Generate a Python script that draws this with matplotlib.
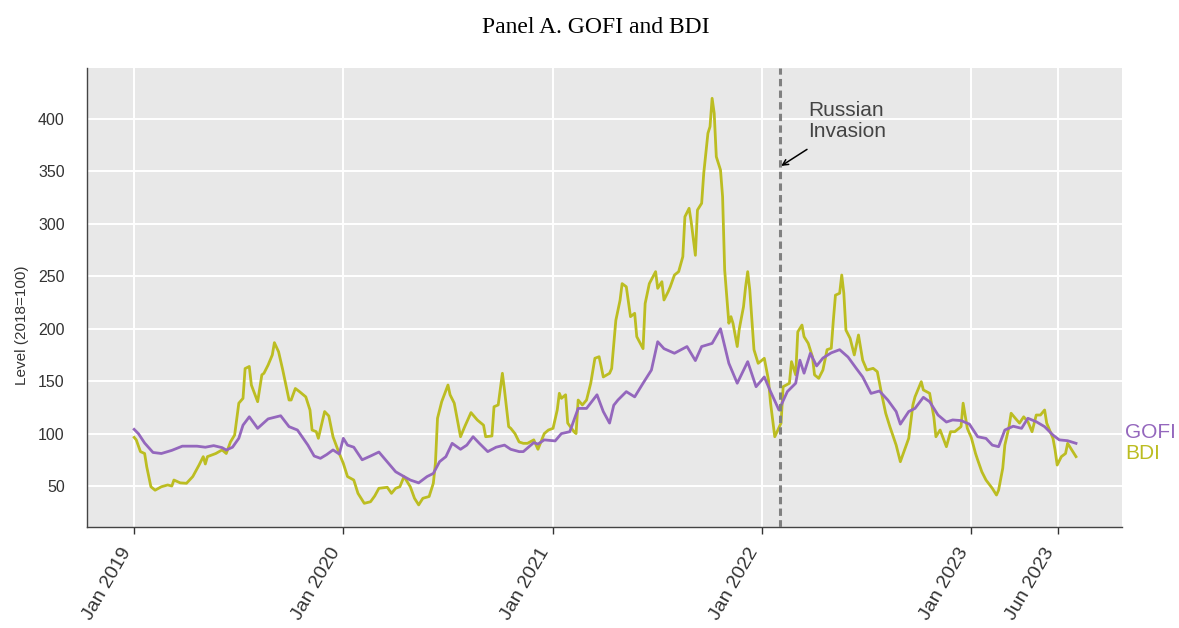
import pandas as pd
import matplotlib
matplotlib.use("Agg")
import matplotlib.pyplot as plt
import matplotlib.transforms as mtransforms

# times are read as decimal years, values as index level (2018=100)
gofi_t = [2019.00, 2019.02, 2019.05, 2019.09, 2019.13, 2019.18, 2019.23, 2019.30, 2019.34, 2019.38,
          2019.42, 2019.44, 2019.47, 2019.50, 2019.52, 2019.55, 2019.59, 2019.64, 2019.70, 2019.74,
          2019.78, 2019.83, 2019.86, 2019.89, 2019.92, 2019.95, 2019.98, 2020.00, 2020.02, 2020.05,
          2020.09, 2020.13, 2020.17, 2020.21, 2020.25, 2020.29, 2020.32, 2020.36, 2020.40, 2020.43,
          2020.46, 2020.49, 2020.52, 2020.56, 2020.59, 2020.62, 2020.65, 2020.69, 2020.73, 2020.77,
          2020.80, 2020.84, 2020.86, 2020.91, 2020.93, 2020.96, 2021.01, 2021.04, 2021.08, 2021.12,
          2021.16, 2021.21, 2021.24, 2021.27, 2021.29, 2021.31, 2021.35, 2021.39, 2021.43, 2021.47,
          2021.50, 2021.53, 2021.58, 2021.64, 2021.68, 2021.71, 2021.76, 2021.80, 2021.84, 2021.88,
          2021.93, 2021.97, 2022.01, 2022.04, 2022.08, 2022.12, 2022.16, 2022.18, 2022.20, 2022.23,
          2022.26, 2022.29, 2022.33, 2022.37, 2022.41, 2022.45, 2022.48, 2022.52, 2022.56, 2022.60,
          2022.64, 2022.66, 2022.70, 2022.73, 2022.77, 2022.80, 2022.84, 2022.88, 2022.91, 2022.95,
          2022.99, 2023.03, 2023.07, 2023.10, 2023.13, 2023.16, 2023.20, 2023.24, 2023.27, 2023.31,
          2023.35, 2023.39, 2023.42, 2023.46, 2023.50]
gofi_v = [104, 100, 91, 82, 81, 84, 88, 88, 87, 88.5,
          86.6, 84.3, 87, 95.5, 108, 116, 105, 114, 117, 106.6,
          103.4, 89, 78.6, 76.4, 80, 84.4, 80.5, 95.5, 89, 87,
          75, 78.6, 82.4, 73, 63.6, 59, 55.7, 53, 59, 62,
          73.2, 78, 90.7, 85, 89, 97, 90.7, 82.8, 87, 89,
          85, 82.8, 82.8, 91.4, 90, 94, 93, 100, 101.8, 124,
          124, 137, 121, 110, 127, 132, 140, 135, 148, 160.6,
          187.6, 181, 176.6, 183, 169.6, 183, 186, 200, 167, 148,
          168.6, 144.7, 154, 140, 122.5, 140, 148, 170, 157.6, 176.6,
          164.5, 172, 177, 180, 173, 162, 154, 138.3, 140.6, 132,
          121, 109, 121, 124, 134.6, 130.4, 117.7, 111, 113, 112.4,
          109, 97, 95.4, 89, 87.5, 103.4, 107, 105, 114.6, 111.3,
          106.6, 98.6, 94, 93.2, 90.7]

bdi_t = [2019.00, 2019.01, 2019.03, 2019.05, 2019.06, 2019.08, 2019.10, 2019.13, 2019.16, 2019.18,
         2019.19, 2019.22, 2019.25, 2019.28, 2019.31, 2019.33, 2019.34, 2019.35, 2019.39, 2019.42,
         2019.44, 2019.46, 2019.48, 2019.50, 2019.52, 2019.53, 2019.55, 2019.56, 2019.59, 2019.61,
         2019.62, 2019.64, 2019.66, 2019.67, 2019.69, 2019.71, 2019.74, 2019.75, 2019.77, 2019.79,
         2019.82, 2019.84, 2019.85, 2019.87, 2019.88, 2019.91, 2019.93, 2019.95, 2019.98, 2020.00,
         2020.02, 2020.05, 2020.07, 2020.10, 2020.13, 2020.15, 2020.17, 2020.21, 2020.23, 2020.25,
         2020.27, 2020.29, 2020.32, 2020.34, 2020.36, 2020.38, 2020.41, 2020.43, 2020.44, 2020.45,
         2020.47, 2020.50, 2020.51, 2020.53, 2020.56, 2020.58, 2020.61, 2020.64, 2020.67, 2020.68,
         2020.71, 2020.72, 2020.74, 2020.76, 2020.77, 2020.79, 2020.80, 2020.82, 2020.84, 2020.86,
         2020.88, 2020.91, 2020.93, 2020.96, 2020.98, 2021.00, 2021.02, 2021.03, 2021.04, 2021.06,
         2021.07, 2021.10, 2021.11, 2021.12, 2021.14, 2021.16, 2021.18, 2021.20, 2021.22, 2021.23,
         2021.24, 2021.27, 2021.28, 2021.30, 2021.32, 2021.33, 2021.35, 2021.37, 2021.39, 2021.40,
         2021.43, 2021.44, 2021.46, 2021.49, 2021.50, 2021.52, 2021.53, 2021.55, 2021.56, 2021.58,
         2021.60, 2021.62, 2021.63, 2021.65, 2021.66, 2021.68, 2021.69, 2021.71, 2021.72, 2021.74,
         2021.75, 2021.76, 2021.77, 2021.78, 2021.80, 2021.81, 2021.82, 2021.84, 2021.85, 2021.86,
         2021.88, 2021.89, 2021.91, 2021.92, 2021.93, 2021.94, 2021.96, 2021.98, 2022.01, 2022.03,
         2022.04, 2022.06, 2022.09, 2022.10, 2022.13, 2022.14, 2022.16, 2022.17, 2022.19, 2022.20,
         2022.22, 2022.24, 2022.25, 2022.27, 2022.29, 2022.31, 2022.33, 2022.34, 2022.35, 2022.37,
         2022.38, 2022.39, 2022.40, 2022.42, 2022.44, 2022.46, 2022.48, 2022.50, 2022.53, 2022.55,
         2022.57, 2022.59, 2022.61, 2022.64, 2022.66, 2022.68, 2022.70, 2022.72, 2022.73, 2022.76,
         2022.77, 2022.80, 2022.82, 2022.83, 2022.85, 2022.88, 2022.90, 2022.92, 2022.95, 2022.96,
         2022.98, 2023.00, 2023.02, 2023.03, 2023.05, 2023.07, 2023.10, 2023.12, 2023.13, 2023.15,
         2023.16, 2023.18, 2023.19, 2023.21, 2023.23, 2023.25, 2023.27, 2023.29, 2023.31, 2023.33,
         2023.35, 2023.36, 2023.39, 2023.40, 2023.41, 2023.43, 2023.45, 2023.46, 2023.48, 2023.50]
bdi_v = [96.4, 94, 82.8, 81, 68.4, 49.3, 46, 49.3, 51, 50,
         55.7, 53, 52.6, 59, 70, 78, 71, 78, 81, 84.4,
         81, 92, 98.6, 129, 133.6, 162, 164, 146.3, 130.4, 156,
         157.5, 165.4, 175, 186.7, 178, 160.6, 132, 132, 143, 140,
         135, 122.5, 103.4, 101.8, 95.5, 121, 116.8, 97, 81, 71.6,
         59, 55.7, 43, 33.5, 35, 40.5, 47.8, 48.8, 43, 47.8,
         49.3, 59, 49.3, 38.3, 32, 38.3, 40, 52.6, 71.6, 114.6,
         130.4, 146.3, 137, 129, 97, 106.6, 120, 113, 108, 97,
         97.7, 125.6, 127.3, 157.5, 141.6, 106.6, 105, 100, 92, 90.7,
         90.7, 94, 85, 100, 103.4, 105, 122.5, 138.4, 133.6, 137,
         110, 101.8, 100, 132, 127.3, 132, 148, 171.8, 173.3, 164,
         154, 157.5, 162, 208, 227, 243, 240, 211.5, 214.7, 192.4,
         181, 224, 243, 254.4, 238.5, 244.8, 227.4, 235.3, 240, 251.2,
         254.4, 268.7, 306.8, 314.8, 302, 270, 313.2, 319.6, 348.2, 386.4,
         392.7, 419.7, 405.4, 364, 351.4, 326, 256, 205.2, 211.5, 205,
         183, 200, 221, 240, 254.4, 237, 180, 167, 171.8, 151,
         129, 97, 110, 144.7, 148, 168.6, 156, 197, 203.5, 192.4,
         186, 173.3, 156, 152.7, 160.6, 180, 181.4, 208.3, 232, 233.8,
         251.2, 233.8, 198.7, 190.8, 175, 194, 170, 160.6, 162.2, 159,
         138.4, 119.4, 106.6, 89, 73.2, 84.4, 95.5, 127.3, 135, 149.5,
         141.6, 138.4, 116, 97, 103.4, 87.5, 101.8, 101.8, 106.6, 129,
         105, 96, 81, 75, 63.6, 55.7, 47.8, 41.4, 46, 67,
         89, 106.6, 119.4, 114.6, 110, 116, 111.3, 101.8, 117.7, 117.7,
         122.5, 110, 95.5, 84.4, 70, 78, 81, 90.7, 84.4, 78]

tick_labels = ["Jan 2019", "Jan 2020", "Jan 2021", "Jan 2022", "Jan 2023", "Jun 2023"]
tick_dates = ["2019-01-01", "2020-01-01", "2021-01-01", "2022-01-01", "2023-01-01", "2023-06-01"]
invasion_date = "2022-02-01"


def to_date(y):
    yr = int(y)
    return pd.Timestamp(year=yr, month=1, day=1) + pd.Timedelta(days=(y - yr) * 365.25)


def to_dates(years):
    return [to_date(y) for y in years]


plt.rcParams['font.family'] = ['Liberation Sans', 'DejaVu Sans']

fig = plt.figure(figsize=(11.79, 6.28), dpi=100)
ax = fig.add_axes([0.0738, 0.1608, 0.8779, 0.7309])
ax.set_facecolor('#e8e8e8')

purple = '#9467bd'
olive = '#bcbd22'

ax.plot(to_dates(bdi_t), bdi_v, color=olive, lw=2.0, zorder=3)
ax.plot(to_dates(gofi_t), gofi_v, color=purple, lw=2.0, zorder=4)

# invasion marker
inv = pd.Timestamp(invasion_date)
ax.axvline(inv, color='#808080', lw=2.2, ls=(0, (2.4, 1.4)), zorder=5)
ax.text(to_date(2022.22), 417, "Russian\nInvasion", fontsize=15, color='#444444',
        ha='left', va='top', linespacing=1.12)
ax.annotate("", xy=(inv, 354.5), xytext=(to_date(2022.214), 371),
            arrowprops=dict(arrowstyle='->', color='black', lw=1.1, shrinkA=0, shrinkB=1))

ax.set_xlim(to_date(2018.774), to_date(2023.72))
ax.set_ylim(10.9, 448.6)
ax.set_yticks([50, 100, 150, 200, 250, 300, 350, 400])
ax.set_xticks([pd.Timestamp(d) for d in tick_dates])
ax.set_xticklabels(tick_labels, rotation=60, ha='right', fontsize=14, color='#333333')
ax.tick_params(axis='y', labelsize=11.5, colors='#333333', length=0, pad=16)
ax.tick_params(axis='x', length=5, width=1, color='#333333', pad=8)
ax.grid(True, color='white', lw=1.4)
ax.set_axisbelow(True)
for s in ['top', 'right']:
    ax.spines[s].set_visible(False)
for s in ['left', 'bottom']:
    ax.spines[s].set_color('#444444')
    ax.spines[s].set_linewidth(1.0)

ax.set_ylabel("Level (2018=100)", fontsize=11, color='#333333')
ax.yaxis.set_label_coords(-0.056, 0.44)

trans = mtransforms.blended_transform_factory(ax.transAxes, ax.transData)
ax.text(1.003, 101, "GOFI", transform=trans, color=purple, fontsize=15, va='center', ha='left', clip_on=False)
ax.text(1.003, 81, "BDI", transform=trans, color=olive, fontsize=15, va='center', ha='left', clip_on=False)

fig.text(0.505, 0.957, "Panel A. GOFI and BDI", fontsize=17, family='Liberation Serif', ha='center', va='center')

fig.savefig("out.png", dpi=100)
